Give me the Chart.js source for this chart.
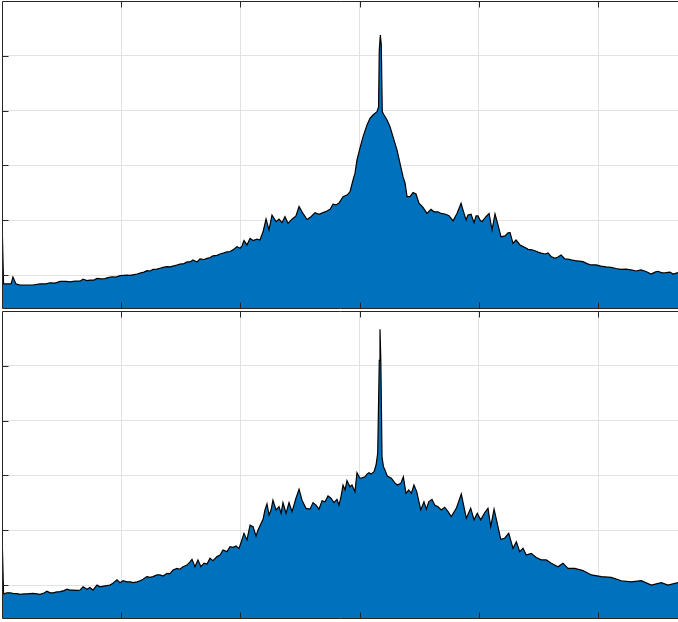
<!DOCTYPE html>
<html>
<head>
<meta charset="utf-8">
<script src="https://cdn.jsdelivr.net/npm/chart.js@4"></script>
<style>
  html, body { margin: 0; padding: 0; background: #fff; overflow: hidden; }
  .panel { position: absolute; left: 0; width: 678px; height: 310px; }
  #top-panel { top: 0; }
  #bottom-panel { top: 310px; }
</style>
</head>
<body>
<div class="panel" id="top-panel"><canvas id="spectrum-top" width="678" height="310"></canvas></div>
<div class="panel" id="bottom-panel"><canvas id="spectrum-bottom" width="678" height="310"></canvas></div>
<script>
// Axis limits and tick positions (no labels are shown)
const xMin = 0;
const xMax = 5.671;
const yMin = -112;
const yMax = 0;
const xTicks = [1, 2, 3, 4, 5];
const yTicks = [-100, -80, -60, -40, -20];

// Top spectrum
const xTop = [
  0, 0.013, 0.050, 0.076, 0.092, 0.117, 0.151, 0.210, 0.260, 0.319,
  0.369, 0.403, 0.445, 0.487, 0.537, 0.570, 0.612, 0.654, 0.680, 0.713,
  0.738, 0.772, 0.797, 0.831, 0.864, 0.889, 0.923, 0.956, 0.990, 1.023,
  1.049, 1.074, 1.099, 1.133, 1.158, 1.191, 1.216, 1.242, 1.267, 1.300,
  1.326, 1.351, 1.384, 1.409, 1.435, 1.468, 1.493, 1.527, 1.552, 1.577,
  1.602, 1.636, 1.661, 1.695, 1.720, 1.745, 1.770, 1.804, 1.829, 1.862,
  1.888, 1.913, 1.938, 1.971, 1.997, 2.013, 2.030, 2.055, 2.081, 2.106,
  2.139, 2.164, 2.190, 2.215, 2.240, 2.265, 2.299, 2.324, 2.349, 2.374,
  2.399, 2.433, 2.466, 2.492, 2.525, 2.559, 2.592, 2.626, 2.659, 2.693,
  2.726, 2.752, 2.777, 2.802, 2.827, 2.861, 2.894, 2.919, 2.945, 2.961,
  2.978, 3.003, 3.029, 3.062, 3.087, 3.112, 3.146, 3.159, 3.165, 3.174,
  3.182, 3.190, 3.205, 3.230, 3.255, 3.280, 3.314, 3.339, 3.364, 3.381,
  3.398, 3.423, 3.448, 3.473, 3.498, 3.532, 3.565, 3.599, 3.624, 3.658,
  3.683, 3.716, 3.750, 3.784, 3.817, 3.851, 3.867, 3.893, 3.909, 3.935,
  3.960, 3.977, 3.993, 4.010, 4.027, 4.060, 4.086, 4.111, 4.136, 4.161,
  4.186, 4.220, 4.245, 4.262, 4.287, 4.312, 4.346, 4.371, 4.396, 4.413,
  4.446, 4.471, 4.497, 4.522, 4.555, 4.581, 4.606, 4.639, 4.664, 4.690,
  4.723, 4.748, 4.782, 4.807, 4.841, 4.874, 4.908, 4.941, 4.983, 5.025,
  5.067, 5.109, 5.151, 5.193, 5.235, 5.277, 5.319, 5.361, 5.403, 5.445,
  5.478, 5.503, 5.537, 5.570, 5.604, 5.629, 5.671
];
const yTop = [
  -79.2, -103.2, -103.2, -103.2, -100.7, -103.2, -103.6, -103.6, -103.6, -103.2,
  -103.2, -102.8, -102.9, -102.3, -102.3, -102.5, -102.2, -102.2, -101.5, -102.0,
  -101.8, -101.8, -101.2, -101.4, -101.3, -100.9, -100.6, -100.7, -100.2, -100.1,
  -100.0, -100.1, -99.9, -99.6, -99.3, -98.9, -98.4, -98.5, -97.9, -97.8,
  -97.5, -97.2, -96.9, -97.0, -96.7, -96.3, -96.0, -95.8, -95.2, -95.2,
  -94.5, -95.2, -94.1, -94.3, -93.9, -93.6, -93.0, -92.8, -92.3, -91.9,
  -91.5, -91.4, -90.8, -89.6, -90.2, -89.4, -87.4, -89.0, -86.6, -87.4,
  -86.9, -87.2, -84.2, -79.5, -83.5, -78.1, -80.5, -79.6, -80.9, -78.7,
  -81.1, -79.6, -78.4, -75.0, -77.5, -79.7, -78.7, -77.2, -77.8, -77.2,
  -76.6, -76.0, -74.1, -74.4, -73.7, -71.4, -70.8, -69.6, -65.3, -62.9,
  -58.0, -53.7, -49.5, -45.2, -42.8, -41.6, -40.4, -38.6, -17.9, -12.4,
  -16.1, -40.4, -41.6, -43.4, -45.9, -49.5, -54.4, -59.2, -64.1, -66.4,
  -71.4, -71.4, -69.9, -70.4, -73.8, -75.3, -77.5, -76.0, -76.9, -76.9,
  -77.5, -77.7, -78.3, -80.2, -77.5, -73.8, -76.2, -79.9, -78.1, -77.8,
  -80.9, -78.4, -78.4, -79.9, -80.5, -78.7, -77.5, -83.5, -77.7, -81.7,
  -86.0, -85.7, -84.6, -84.5, -88.4, -87.2, -89.0, -89.6, -90.1, -90.6,
  -90.8, -91.1, -91.6, -92.0, -92.3, -91.9, -93.2, -93.9, -93.4, -92.7,
  -94.1, -94.2, -94.5, -94.7, -94.9, -95.1, -95.8, -96.3, -96.3, -96.7,
  -97.0, -97.2, -97.6, -97.9, -97.8, -98.1, -98.5, -98.1, -98.7, -99.6,
  -98.9, -98.6, -99.2, -99.1, -98.9, -99.6, -99.1
];

// Bottom spectrum
const xBottom = [
  0, 0.013, 0.042, 0.067, 0.092, 0.126, 0.151, 0.185, 0.210, 0.235,
  0.260, 0.294, 0.319, 0.352, 0.378, 0.403, 0.428, 0.461, 0.487, 0.520,
  0.545, 0.570, 0.596, 0.629, 0.654, 0.680, 0.713, 0.738, 0.763, 0.797,
  0.822, 0.864, 0.906, 0.931, 0.965, 0.990, 1.015, 1.049, 1.074, 1.099,
  1.133, 1.158, 1.183, 1.216, 1.242, 1.267, 1.300, 1.326, 1.351, 1.384,
  1.409, 1.435, 1.468, 1.493, 1.518, 1.552, 1.577, 1.594, 1.619, 1.644,
  1.669, 1.695, 1.720, 1.745, 1.770, 1.804, 1.829, 1.854, 1.888, 1.913,
  1.938, 1.963, 1.988, 2.005, 2.030, 2.055, 2.081, 2.106, 2.131, 2.148,
  2.173, 2.190, 2.206, 2.223, 2.240, 2.257, 2.273, 2.299, 2.324, 2.341,
  2.357, 2.383, 2.408, 2.433, 2.466, 2.492, 2.517, 2.550, 2.584, 2.609,
  2.634, 2.659, 2.685, 2.710, 2.735, 2.760, 2.785, 2.810, 2.827, 2.844,
  2.861, 2.878, 2.894, 2.919, 2.936, 2.961, 2.978, 3.003, 3.020, 3.045,
  3.062, 3.079, 3.096, 3.121, 3.138, 3.152, 3.165, 3.171, 3.178, 3.188,
  3.200, 3.213, 3.232, 3.266, 3.294, 3.316, 3.345, 3.367, 3.389, 3.412,
  3.434, 3.456, 3.479, 3.513, 3.540, 3.560, 3.580, 3.607, 3.630, 3.658,
  3.685, 3.714, 3.742, 3.769, 3.811, 3.853, 3.895, 3.932, 3.960, 3.987,
  4.016, 4.049, 4.077, 4.100, 4.128, 4.155, 4.184, 4.217, 4.251, 4.287,
  4.315, 4.343, 4.371, 4.398, 4.440, 4.482, 4.524, 4.566, 4.608, 4.664,
  4.706, 4.748, 4.805, 4.874, 4.944, 5.028, 5.111, 5.195, 5.279, 5.363,
  5.447, 5.531, 5.587, 5.671
];
const yBottom = [
  -80.3, -103.2, -102.8, -102.8, -103.0, -103.1, -103.4, -103.2, -103.2, -103.1,
  -103.0, -103.2, -103.4, -102.9, -102.2, -102.8, -102.8, -102.5, -102.4, -102.0,
  -101.5, -101.8, -101.8, -101.9, -101.8, -100.6, -101.5, -100.9, -101.8, -100.0,
  -100.6, -100.3, -100.0, -99.3, -98.1, -99.1, -98.4, -98.8, -98.8, -99.1,
  -98.8, -98.4, -97.9, -96.9, -97.2, -96.9, -96.3, -96.3, -96.7, -95.7,
  -95.8, -94.5, -93.9, -94.2, -93.3, -92.7, -91.5, -90.6, -93.3, -90.8,
  -93.3, -92.0, -92.3, -90.2, -91.1, -89.6, -89.0, -87.2, -87.8, -86.0,
  -86.2, -85.7, -86.6, -84.5, -81.1, -83.5, -78.1, -78.7, -82.1, -79.9,
  -77.5, -76.0, -72.6, -70.4, -74.4, -72.6, -69.0, -72.6, -71.4, -73.8,
  -69.9, -73.8, -69.9, -73.2, -68.3, -65.0, -69.0, -72.0, -72.3, -69.9,
  -70.8, -72.3, -69.2, -69.6, -67.5, -68.3, -69.9, -68.7, -70.8, -67.7,
  -63.5, -65.3, -61.9, -64.1, -63.5, -65.9, -59.0, -61.0, -60.9, -60.5,
  -59.5, -59.0, -59.5, -58.6, -56.2, -51.8, -18.0, -6.7, -18.0, -53.2,
  -56.8, -58.0, -60.2, -61.0, -62.6, -63.5, -62.9, -60.5, -66.5, -65.3,
  -66.5, -63.5, -65.9, -72.6, -69.6, -72.3, -69.6, -68.7, -70.8, -71.4,
  -72.6, -71.6, -73.2, -75.0, -72.0, -66.8, -75.6, -72.0, -76.2, -73.8,
  -76.2, -73.6, -72.0, -78.7, -72.3, -77.5, -83.3, -82.9, -81.1, -86.6,
  -84.2, -87.8, -86.6, -89.0, -88.4, -89.9, -90.8, -90.8, -92.0, -93.3,
  -92.0, -93.9, -93.9, -94.7, -96.3, -96.9, -97.2, -98.4, -98.8, -98.4,
  -100.0, -99.1, -100.0, -99.1
];

const fillColor = "#0072BD";
const gridColor = "#e2e2e2";
const axisColor = "#262626";
const tickLen = 6;

// Plugin: draw the axes box (top, left, bottom) with inward tick marks
const axesBox = {
  id: "axesBox",
  afterDatasetsDraw(chart) {
    const { ctx, chartArea: a, scales } = chart;
    const top = Math.round(a.top) + 0.5;
    const bottom = Math.round(a.bottom) + 0.5;
    const left = Math.round(a.left) + 0.5;
    ctx.save();
    ctx.strokeStyle = axisColor;
    ctx.lineWidth = 1;
    ctx.beginPath();
    ctx.moveTo(a.right, top);
    ctx.lineTo(left, top);
    ctx.lineTo(left, bottom);
    ctx.lineTo(a.right, bottom);
    xTicks.forEach(v => {
      const px = Math.round(scales.x.getPixelForValue(v)) + 0.5;
      ctx.moveTo(px, top);
      ctx.lineTo(px, top + tickLen);
      ctx.moveTo(px, bottom);
      ctx.lineTo(px, bottom - tickLen);
    });
    yTicks.forEach(v => {
      const py = Math.round(scales.y.getPixelForValue(v)) + 0.5;
      ctx.moveTo(left, py);
      ctx.lineTo(left + tickLen, py);
    });
    ctx.stroke();
    ctx.restore();
  },
};

// Function to build one spectrum panel
const makeSpectrum = (canvasId, xs, ys) => {
  const ctx = document.getElementById(canvasId).getContext("2d");
  return new Chart(ctx, {
    type: "line",
    data: {
      datasets: [
        {
          data: xs.map((x, i) => ({ x, y: ys[i] })),
          borderColor: "#000000",
          borderWidth: 1.2,
          backgroundColor: fillColor,
          fill: "start",
          pointRadius: 0,
          tension: 0,
        },
      ],
    },
    options: {
      responsive: false,
      animation: false,
      devicePixelRatio: 1,
      layout: { padding: { left: 2, top: 1, right: 0, bottom: 2 } },
      plugins: { legend: { display: false }, tooltip: { enabled: false } },
      scales: {
        x: {
          type: "linear",
          min: xMin,
          max: xMax,
          afterBuildTicks: scale => { scale.ticks = xTicks.map(value => ({ value })); },
          ticks: { display: false },
          grid: { color: gridColor, drawTicks: false },
          border: { display: false },
        },
        y: {
          min: yMin,
          max: yMax,
          afterBuildTicks: scale => { scale.ticks = yTicks.map(value => ({ value })); },
          ticks: { display: false },
          grid: { color: gridColor, drawTicks: false },
          border: { display: false },
        },
      },
    },
    plugins: [axesBox],
  });
};

makeSpectrum("spectrum-top", xTop, yTop);
makeSpectrum("spectrum-bottom", xBottom, yBottom);
</script>
</body>
</html>
